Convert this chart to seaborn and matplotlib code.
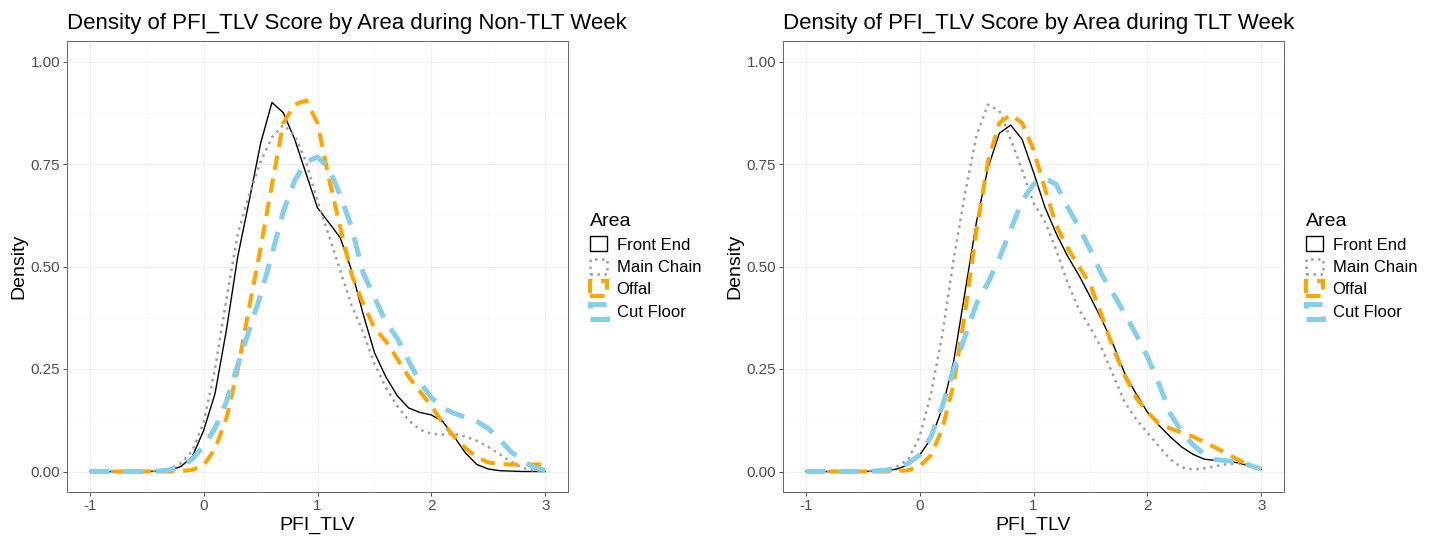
import matplotlib
matplotlib.use("Agg")
import matplotlib.pyplot as plt
import matplotlib.patches as mpatches
from matplotlib.ticker import MultipleLocator
import pandas as pd
import seaborn as sns

# PFI_TLV grid the densities were read at
pfi_x = [-1.0, -0.9, -0.8, -0.7, -0.6, -0.5, -0.4, -0.3, -0.2, -0.1,
         0.0, 0.1, 0.2, 0.3, 0.4, 0.5, 0.6, 0.7, 0.8, 0.9,
         1.0, 1.1, 1.2, 1.3, 1.4, 1.5, 1.6, 1.7, 1.8, 1.9,
         2.0, 2.1, 2.2, 2.3, 2.4, 2.5, 2.6, 2.7, 2.8, 2.9, 3.0]

areas = ["Front End", "Main Chain", "Offal", "Cut Floor"]

# Non-TLT week densities
front_end_non = [0, 0, 0, 0, 0, 0, 0.001, 0.003, 0.012, 0.036,
                 0.10, 0.19, 0.345, 0.525, 0.66, 0.80, 0.90, 0.875, 0.81, 0.726,
                 0.643, 0.607, 0.57, 0.49, 0.385, 0.29, 0.231, 0.185, 0.155, 0.144,
                 0.138, 0.122, 0.085, 0.045, 0.017, 0.006, 0.002, 0.001, 0, 0, 0]
main_chain_non = [0, 0, 0, 0, 0, 0, 0.002, 0.006, 0.02, 0.05,
                  0.12, 0.25, 0.42, 0.58, 0.675, 0.755, 0.815, 0.845, 0.82, 0.755,
                  0.66, 0.575, 0.49, 0.405, 0.34, 0.263, 0.205, 0.16, 0.125, 0.102,
                  0.092, 0.09, 0.092, 0.085, 0.075, 0.06, 0.042, 0.024, 0.009, 0.002, 0]
offal_non = [0, 0, 0, 0, 0, 0, 0, 0, 0.001, 0.004,
             0.015, 0.055, 0.13, 0.25, 0.40, 0.545, 0.70, 0.85, 0.895, 0.905,
             0.85, 0.715, 0.595, 0.48, 0.41, 0.35, 0.318, 0.275, 0.231, 0.195,
             0.16, 0.118, 0.085, 0.057, 0.035, 0.022, 0.018, 0.017, 0.017, 0.017, 0.017]
cut_floor_non = [0, 0, 0, 0, 0, 0, 0.001, 0.004, 0.012, 0.03,
                 0.062, 0.105, 0.17, 0.26, 0.345, 0.43, 0.53, 0.634, 0.71, 0.755,
                 0.767, 0.74, 0.674, 0.595, 0.485, 0.425, 0.365, 0.325, 0.27, 0.218,
                 0.18, 0.155, 0.142, 0.132, 0.122, 0.105, 0.078, 0.048, 0.027, 0.01, 0.003]

# TLT week densities
front_end_tlt = [0, 0, 0, 0, 0, 0, 0.001, 0.002, 0.006, 0.016,
                 0.04, 0.08, 0.155, 0.27, 0.44, 0.61, 0.74, 0.825, 0.845, 0.81,
                 0.73, 0.645, 0.58, 0.525, 0.478, 0.425, 0.37, 0.31, 0.24, 0.19,
                 0.145, 0.113, 0.085, 0.06, 0.042, 0.03, 0.027, 0.025, 0.021, 0.013, 0.005]
main_chain_tlt = [0, 0, 0, 0, 0, 0, 0.002, 0.005, 0.012, 0.03,
                  0.085, 0.19, 0.335, 0.52, 0.68, 0.82, 0.895, 0.88, 0.81, 0.735,
                  0.655, 0.61, 0.54, 0.46, 0.395, 0.35, 0.30, 0.235, 0.17, 0.128,
                  0.095, 0.062, 0.03, 0.01, 0.005, 0.008, 0.013, 0.018, 0.02, 0.016, 0.008]
offal_tlt = [0, 0, 0, 0, 0, 0, 0, 0, 0.001, 0.003,
             0.012, 0.04, 0.105, 0.215, 0.39, 0.59, 0.755, 0.85, 0.87, 0.85,
             0.785, 0.69, 0.60, 0.545, 0.50, 0.455, 0.38, 0.30, 0.235, 0.18,
             0.145, 0.117, 0.105, 0.095, 0.085, 0.072, 0.058, 0.043, 0.028, 0.015, 0.005]
cut_floor_tlt = [0, 0, 0, 0, 0, 0, 0.001, 0.003, 0.008, 0.02,
                 0.04, 0.085, 0.16, 0.25, 0.33, 0.41, 0.46, 0.52, 0.59, 0.66,
                 0.70, 0.715, 0.70, 0.645, 0.595, 0.54, 0.48, 0.434, 0.385, 0.335,
                 0.28, 0.215, 0.142, 0.098, 0.065, 0.042, 0.029, 0.026, 0.024, 0.015, 0.006]

panels = [
    ("Density of PFI_TLV Score by Area during Non-TLT Week",
     [front_end_non, main_chain_non, offal_non, cut_floor_non]),
    ("Density of PFI_TLV Score by Area during TLT Week",
     [front_end_tlt, main_chain_tlt, offal_tlt, cut_floor_tlt]),
]

# line look per area: colour, width (pt), dash pattern
styles = {
    "Front End": ("black", 1.0, "-"),
    "Main Chain": ("#9E9E9E", 1.8, (0, (1.0, 1.8))),
    "Offal": ("#FFA500", 2.9, (0, (3.6, 2.2))),
    "Cut Floor": ("#87CEEB", 3.6, (0, (4.0, 2.6))),
}

sns.set_theme(style="white")
plt.rcParams["font.family"] = ["Liberation Sans", "DejaVu Sans"]
plt.rcParams["text.color"] = "black"
plt.rcParams["axes.labelcolor"] = "black"

W, H = 1442, 542
fig = plt.figure(figsize=(W / 100, H / 100), dpi=100)
lefts = [67, 783]

for (title, series), left in zip(panels, lefts):
    ax = fig.add_axes([left / W, 50 / H, 501 / W, 451 / H])
    df = pd.DataFrame({
        "PFI_TLV": pfi_x * 4,
        "Density": [v for s in series for v in s],
        "Area": [a for a in areas for _ in pfi_x],
    })
    for area in areas:
        color, lw, ls = styles[area]
        sns.lineplot(data=df[df["Area"] == area], x="PFI_TLV", y="Density",
                     color=color, linewidth=lw, linestyle=ls, ax=ax,
                     legend=False, zorder=3, solid_joinstyle="round")

    ax.set_xlim(-1.2, 3.2)
    ax.set_ylim(-0.05, 1.05)
    ax.xaxis.set_major_locator(MultipleLocator(1))
    ax.xaxis.set_minor_locator(MultipleLocator(0.5))
    ax.yaxis.set_major_locator(MultipleLocator(0.25))
    ax.yaxis.set_minor_locator(MultipleLocator(0.125))
    ax.set_yticklabels([f"{t:.2f}" for t in ax.get_yticks()])
    ax.set_xticklabels([f"{t:g}" for t in ax.get_xticks()])
    ax.grid(which="major", color="#EEEEEE", linewidth=0.8)
    ax.grid(which="minor", color="#F7F7F7", linewidth=0.5)
    ax.set_axisbelow(True)
    for sp in ax.spines.values():
        sp.set_color("#666666")
        sp.set_linewidth(0.7)
    ax.tick_params(which="major", direction="out", length=3, width=0.6,
                   color="#333333", labelsize=11, labelcolor="#4D4D4D", pad=2,
                   bottom=True, left=True)
    ax.tick_params(which="minor", length=0)
    ax.set_xlabel("PFI_TLV", fontsize=14, labelpad=3, color="black")
    ax.set_ylabel("Density", fontsize=14, labelpad=2, color="black")
    ax.set_title(title, loc="left", fontsize=16, pad=9, color="black")

    handles = []
    for area in areas:
        color, lw, ls = styles[area]
        handles.append(mpatches.Patch(facecolor="white", edgecolor=color,
                                      linewidth=lw, linestyle=ls, label=area))
    leg = ax.legend(handles=handles, title="Area", loc="center left",
                    bbox_to_anchor=(1.044, 0.5), frameon=False, fontsize=12,
                    title_fontsize=14, handlelength=1.0, handleheight=1.0,
                    handletextpad=0.6, labelspacing=0.38, borderpad=0,
                    borderaxespad=0, alignment="left")
    for t in leg.get_texts():
        t.set_color("black")
    leg.get_title().set_color("black")

fig.savefig("out.png", dpi=100)
